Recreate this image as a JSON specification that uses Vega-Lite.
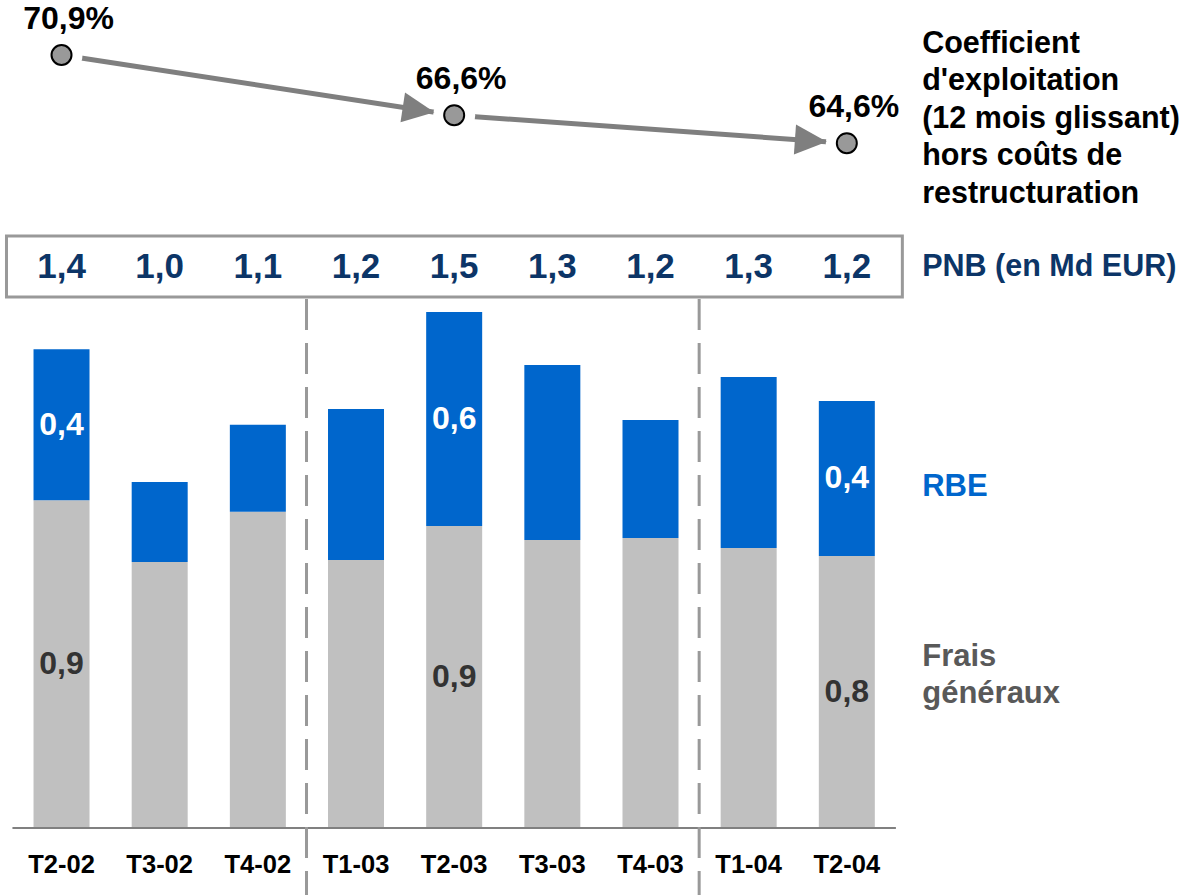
{
  "$schema": "https://vega.github.io/schema/vega-lite/v6.json",
  "width": 1183,
  "height": 895,
  "autosize": {"type": "none"},
  "padding": 0,
  "background": "#ffffff",
  "config": {
    "view": {"stroke": null},
    "font": "Liberation Sans",
    "locale": {"number": {"decimal": ",", "thousands": " ", "grouping": [3], "currency": ["", " €"]}}
  },
  "datasets": {
    "bars": [
      {"q": "T2-02", "idx": 0, "series": "Frais généraux", "value": 0.953, "label": 0.9},
      {"q": "T2-02", "idx": 0, "series": "RBE", "value": 0.439, "label": 0.4},
      {"q": "T3-02", "idx": 1, "series": "Frais généraux", "value": 0.773, "label": null},
      {"q": "T3-02", "idx": 1, "series": "RBE", "value": 0.233, "label": null},
      {"q": "T4-02", "idx": 2, "series": "Frais généraux", "value": 0.919, "label": null},
      {"q": "T4-02", "idx": 2, "series": "RBE", "value": 0.253, "label": null},
      {"q": "T1-03", "idx": 3, "series": "Frais généraux", "value": 0.779, "label": null},
      {"q": "T1-03", "idx": 3, "series": "RBE", "value": 0.439, "label": null},
      {"q": "T2-03", "idx": 4, "series": "Frais généraux", "value": 0.878, "label": 0.9},
      {"q": "T2-03", "idx": 4, "series": "RBE", "value": 0.622, "label": 0.6},
      {"q": "T3-03", "idx": 5, "series": "Frais généraux", "value": 0.837, "label": null},
      {"q": "T3-03", "idx": 5, "series": "RBE", "value": 0.509, "label": null},
      {"q": "T4-03", "idx": 6, "series": "Frais généraux", "value": 0.843, "label": null},
      {"q": "T4-03", "idx": 6, "series": "RBE", "value": 0.343, "label": null},
      {"q": "T1-04", "idx": 7, "series": "Frais généraux", "value": 0.814, "label": null},
      {"q": "T1-04", "idx": 7, "series": "RBE", "value": 0.497, "label": null},
      {"q": "T2-04", "idx": 8, "series": "Frais généraux", "value": 0.791, "label": 0.8},
      {"q": "T2-04", "idx": 8, "series": "RBE", "value": 0.450, "label": 0.4}
    ],
    "quarters": [
      {"q": "T2-02", "idx": 0, "pnb": 1.4},
      {"q": "T3-02", "idx": 1, "pnb": 1.0},
      {"q": "T4-02", "idx": 2, "pnb": 1.1},
      {"q": "T1-03", "idx": 3, "pnb": 1.2},
      {"q": "T2-03", "idx": 4, "pnb": 1.5},
      {"q": "T3-03", "idx": 5, "pnb": 1.3},
      {"q": "T4-03", "idx": 6, "pnb": 1.2},
      {"q": "T1-04", "idx": 7, "pnb": 1.3},
      {"q": "T2-04", "idx": 8, "pnb": 1.2}
    ],
    "ratio": [
      {"q": "T2-02", "idx": 0, "ratio": 0.709},
      {"q": "T2-03", "idx": 4, "ratio": 0.666},
      {"q": "T2-04", "idx": 8, "ratio": 0.646}
    ]
  },
  "resolve": {"scale": {"y": "independent"}},
  "layer": [
    {
      "layer": [
        {
          "data": {"values": [{"label": "PNB (en Md EUR)"}]},
          "mark": {"type": "rect", "fill": "#ffffff", "stroke": "#999999", "strokeWidth": 3},
          "encoding": {
            "x": {"datum": -0.5606, "type": "quantitative", "scale": {"domain": [-0.5758, 11.3737], "nice": false, "zero": false}, "axis": null},
            "x2": {"datum": 8.5657},
            "y": {"datum": 1.7209, "type": "quantitative", "scale": {"domain": [-0.19477, 2.40698], "nice": false, "zero": false}, "axis": null},
            "y2": {"datum": 1.5436}
          }
        },
        {
          "data": {"values": [{"label": "PNB (en Md EUR)"}]},
          "mark": {"type": "text", "align": "left", "baseline": "middle", "fontSize": 30.5, "fontWeight": "bold", "color": "#0c3567"},
          "encoding": {
            "x": {"datum": 8.768, "type": "quantitative", "scale": {"domain": [-0.5758, 11.3737], "nice": false, "zero": false}, "axis": null},
            "y": {"datum": 1.6308, "type": "quantitative", "scale": {"domain": [-0.19477, 2.40698], "nice": false, "zero": false}, "axis": null},
            "text": {"field": "label", "type": "nominal"}
          }
        },
        {
          "data": {"name": "bars"},
          "mark": {"type": "bar", "width": 56},
          "encoding": {
            "x": {"field": "idx", "type": "quantitative", "scale": {"domain": [-0.5758, 11.3737], "nice": false, "zero": false}, "axis": null},
            "y": {"field": "value", "type": "quantitative", "stack": "zero", "scale": {"domain": [-0.19477, 2.40698], "nice": false, "zero": false}, "axis": null},
            "color": {"field": "series", "type": "nominal", "scale": {"domain": ["Frais généraux", "RBE"], "range": ["#c0c0c0", "#0066cc"]}, "legend": null},
            "order": {"field": "series", "type": "nominal", "sort": "ascending"}
          }
        },
        {
          "data": {"values": [{"axis": "x"}]},
          "mark": {"type": "rule", "color": "#808080", "strokeWidth": 2},
          "encoding": {
            "x": {"datum": -0.5, "type": "quantitative", "scale": {"domain": [-0.5758, 11.3737], "nice": false, "zero": false}, "axis": null},
            "x2": {"datum": 8.5},
            "y": {"datum": 0, "type": "quantitative", "scale": {"domain": [-0.19477, 2.40698], "nice": false, "zero": false}, "axis": null}
          }
        },
        {
          "data": {"name": "quarters"},
          "transform": [{"filter": "indexof(datum.q, 'T1') === 0"}],
          "mark": {"type": "rule", "color": "#999999", "strokeWidth": 3, "strokeDash": [31, 13], "xOffset": -49.5},
          "encoding": {
            "x": {"field": "idx", "type": "quantitative", "scale": {"domain": [-0.5758, 11.3737], "nice": false, "zero": false}, "axis": null},
            "y": {"datum": 1.5378, "type": "quantitative", "scale": {"domain": [-0.19477, 2.40698], "nice": false, "zero": false}, "axis": null},
            "y2": {"datum": -0.19477}
          }
        },
        {
          "data": {"name": "quarters"},
          "mark": {"type": "text", "align": "center", "baseline": "middle", "fontSize": 25.5, "fontWeight": "bold", "color": "#000000"},
          "encoding": {
            "x": {"field": "idx", "type": "quantitative", "scale": {"domain": [-0.5758, 11.3737], "nice": false, "zero": false}, "axis": null},
            "y": {"datum": -0.1076, "type": "quantitative", "scale": {"domain": [-0.19477, 2.40698], "nice": false, "zero": false}, "axis": null},
            "text": {"field": "q", "type": "nominal"}
          }
        },
        {
          "data": {"name": "quarters"},
          "mark": {"type": "text", "align": "center", "baseline": "middle", "fontSize": 35, "fontWeight": "bold", "color": "#0c3567"},
          "encoding": {
            "x": {"field": "idx", "type": "quantitative", "scale": {"domain": [-0.5758, 11.3737], "nice": false, "zero": false}, "axis": null},
            "y": {"datum": 1.6308, "type": "quantitative", "scale": {"domain": [-0.19477, 2.40698], "nice": false, "zero": false}, "axis": null},
            "text": {"field": "pnb", "type": "quantitative", "format": ".1f"}
          }
        },
        {
          "data": {"name": "bars"},
          "transform": [
            {"stack": "value", "groupby": ["q"], "sort": [{"field": "series", "order": "ascending"}], "as": ["v0", "v1"]},
            {"filter": "isValid(datum.label)"},
            {"fold": ["v0", "v1"], "as": ["bound", "pos"]}
          ],
          "mark": {"type": "text", "align": "center", "baseline": "middle", "fontSize": 32, "fontWeight": "bold"},
          "encoding": {
            "x": {"field": "idx", "type": "quantitative", "scale": {"domain": [-0.5758, 11.3737], "nice": false, "zero": false}, "axis": null},
            "y": {"aggregate": "mean", "field": "pos", "type": "quantitative", "stack": null, "scale": {"domain": [-0.19477, 2.40698], "nice": false, "zero": false}, "axis": null},
            "detail": {"field": "series", "type": "nominal"},
            "text": {"field": "label", "type": "quantitative", "format": ".1f"},
            "color": {"condition": {"test": "datum.series === 'RBE'", "value": "#ffffff"}, "value": "#333333"}
          }
        },
        {
          "data": {"values": [{"label": "RBE"}]},
          "mark": {"type": "text", "align": "left", "baseline": "middle", "fontSize": 31, "fontWeight": "bold", "color": "#0066cc"},
          "encoding": {
            "x": {"datum": 8.768, "type": "quantitative", "scale": {"domain": [-0.5758, 11.3737], "nice": false, "zero": false}, "axis": null},
            "y": {"datum": 0.9913, "type": "quantitative", "scale": {"domain": [-0.19477, 2.40698], "nice": false, "zero": false}, "axis": null},
            "text": {"field": "label", "type": "nominal"}
          }
        },
        {
          "data": {"values": [{"label": "Frais\ngénéraux"}]},
          "mark": {"type": "text", "align": "left", "baseline": "middle", "fontSize": 31, "fontWeight": "bold", "color": "#595959", "lineBreak": "\n", "lineHeight": 37},
          "encoding": {
            "x": {"datum": 8.768, "type": "quantitative", "scale": {"domain": [-0.5758, 11.3737], "nice": false, "zero": false}, "axis": null},
            "y": {"datum": 0.4971, "type": "quantitative", "scale": {"domain": [-0.19477, 2.40698], "nice": false, "zero": false}, "axis": null},
            "text": {"field": "label", "type": "nominal"}
          }
        },
        {
          "data": {"values": [{"label": "Coefficient\nd'exploitation\n(12 mois glissant)\nhors coûts de\nrestructuration"}]},
          "mark": {"type": "text", "align": "left", "baseline": "middle", "fontSize": 30.5, "fontWeight": "bold", "color": "#000000", "lineBreak": "\n", "lineHeight": 37.5},
          "encoding": {
            "x": {"datum": 8.768, "type": "quantitative", "scale": {"domain": [-0.5758, 11.3737], "nice": false, "zero": false}, "axis": null},
            "y": {"datum": 2.2791, "type": "quantitative", "scale": {"domain": [-0.19477, 2.40698], "nice": false, "zero": false}, "axis": null},
            "text": {"field": "label", "type": "nominal"}
          }
        }
      ]
    },
    {
      "data": {"name": "ratio"},
      "layer": [
        {
          "mark": {"type": "line", "color": "#7f7f7f", "strokeWidth": 5},
          "encoding": {
            "x": {"field": "idx", "type": "quantitative", "scale": {"domain": [-0.5758, 11.3737], "nice": false, "zero": false}, "axis": null},
            "y": {"field": "ratio", "type": "quantitative", "scale": {"domain": [0.109, 0.74829], "nice": false, "zero": false}, "axis": null}
          }
        },
        {
          "mark": {"type": "point", "shape": "circle", "filled": true, "color": "#ffffff", "opacity": 1, "size": 1764},
          "encoding": {
            "x": {"field": "idx", "type": "quantitative", "scale": {"domain": [-0.5758, 11.3737], "nice": false, "zero": false}, "axis": null},
            "y": {"field": "ratio", "type": "quantitative", "scale": {"domain": [0.109, 0.74829], "nice": false, "zero": false}, "axis": null}
          }
        },
        {
          "transform": [{"filter": "datum.q === 'T2-03'"}],
          "mark": {"type": "point", "shape": "M -20 0 L -52 -15 L -52 15 Z", "size": 4, "angle": 8.64, "filled": true, "color": "#7f7f7f", "opacity": 1},
          "encoding": {
            "x": {"field": "idx", "type": "quantitative", "scale": {"domain": [-0.5758, 11.3737], "nice": false, "zero": false}, "axis": null},
            "y": {"field": "ratio", "type": "quantitative", "scale": {"domain": [0.109, 0.74829], "nice": false, "zero": false}, "axis": null}
          }
        },
        {
          "transform": [{"filter": "datum.q === 'T2-04'"}],
          "mark": {"type": "point", "shape": "M -20 0 L -52 -15 L -52 15 Z", "size": 4, "angle": 4.05, "filled": true, "color": "#7f7f7f", "opacity": 1},
          "encoding": {
            "x": {"field": "idx", "type": "quantitative", "scale": {"domain": [-0.5758, 11.3737], "nice": false, "zero": false}, "axis": null},
            "y": {"field": "ratio", "type": "quantitative", "scale": {"domain": [0.109, 0.74829], "nice": false, "zero": false}, "axis": null}
          }
        },
        {
          "mark": {"type": "point", "shape": "circle", "filled": true, "fill": "#999999", "stroke": "#000000", "strokeWidth": 2, "opacity": 1, "size": 400},
          "encoding": {
            "x": {"field": "idx", "type": "quantitative", "scale": {"domain": [-0.5758, 11.3737], "nice": false, "zero": false}, "axis": null},
            "y": {"field": "ratio", "type": "quantitative", "scale": {"domain": [0.109, 0.74829], "nice": false, "zero": false}, "axis": null}
          }
        },
        {
          "mark": {"type": "text", "align": "center", "baseline": "middle", "fontSize": 32, "fontWeight": "bold", "color": "#000000", "dx": 7, "dy": -36},
          "encoding": {
            "x": {"field": "idx", "type": "quantitative", "scale": {"domain": [-0.5758, 11.3737], "nice": false, "zero": false}, "axis": null},
            "y": {"field": "ratio", "type": "quantitative", "scale": {"domain": [0.109, 0.74829], "nice": false, "zero": false}, "axis": null},
            "text": {"field": "ratio", "type": "quantitative", "format": ".1%"}
          }
        }
      ]
    }
  ]
}
